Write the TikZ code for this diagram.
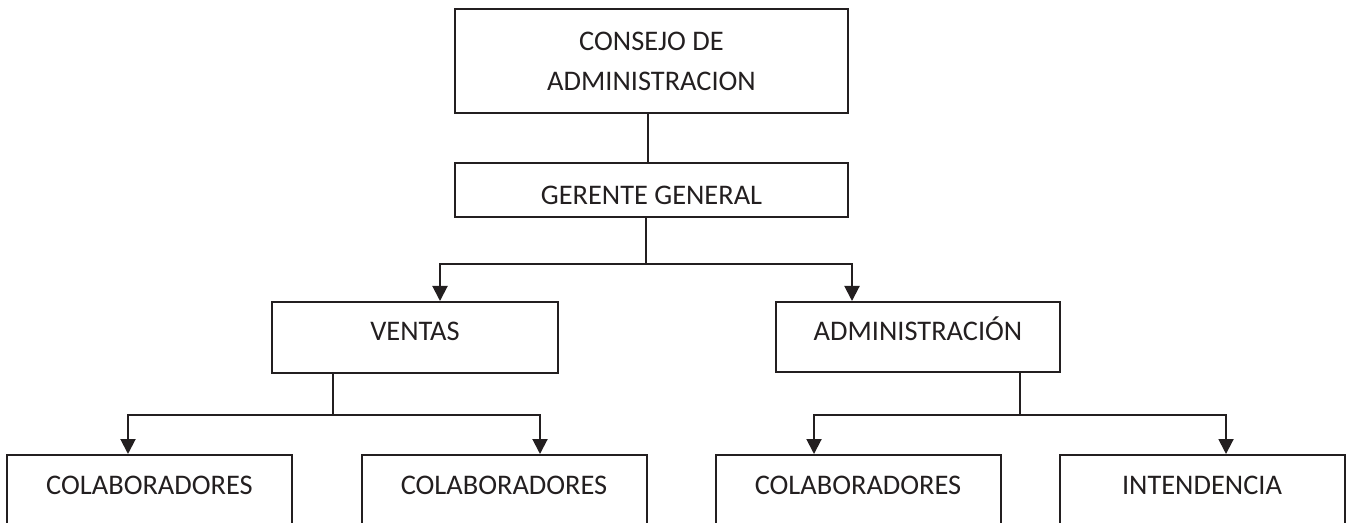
\documentclass[tikz,border=0pt]{standalone}
\usepackage{fontspec}
\setmainfont{Carlito}
\usetikzlibrary{arrows.meta}
\definecolor{tinta}{HTML}{231F20}

\tikzset{
  colab/.style={anchor=north,minimum width=142.5pt,inner ysep=10.5pt,text height=9pt,text depth=40pt}
}

\begin{document}
\begin{tikzpicture}[x=0.5pt,y=-0.5pt]
\useasboundingbox (0,0) rectangle (1347,523);
\clip (0,0) rectangle (1347,523);

\begin{scope}[every node/.style={draw=tinta,line width=1pt,text=tinta,
              font=\fontsize{14.2}{20}\selectfont,align=center,inner sep=0pt}]
    \node[minimum width=196.5pt,minimum height=52pt] (consejo) at (651.5,61) {CONSEJO DE\\ADMINISTRACION};
    \node[minimum width=196.5pt,minimum height=27pt,text height=15pt,text depth=0pt] (gerente) at (651.5,190) {GERENTE GENERAL};
    \node[minimum width=143pt,minimum height=35.5pt,text height=9pt,text depth=5.5pt] (ventas) at (415,337.5) {VENTAS};
    \node[minimum width=142pt,minimum height=35pt,text height=9pt,text depth=5.5pt] (admin) at (918,337) {ADMINISTRACIÓN};
    \node[colab] (colab1) at (149.5,454) {COLABORADORES};
    \node[colab] (colab2) at (504,454) {COLABORADORES};
    \node[colab] (colab3) at (858,454) {COLABORADORES};
    \node[colab] (intend) at (1202,454) {INTENDENCIA};
\end{scope}

\begin{scope}[line width=1pt,draw=tinta,>={Triangle[length=7.5pt,width=7.5pt]}]
    \coordinate (rCon) at (648,137);
    \coordinate (rGer) at (646,264);
    \coordinate (rVen) at (333,415);
    \coordinate (rAdm) at (1020,415);
    \draw (consejo.south -| rCon) -- (gerente.north -| rCon);
    \draw (gerente.south -| rGer) -- (rGer);
    \draw[->] (rGer) -| ([xshift=12.5pt]ventas.north);
    \draw[->] (rGer) -| ([xshift=-33pt]admin.north);
    \draw (ventas.south -| rVen) -- (rVen);
    \draw[->] (rVen) -| ([xshift=-10.75pt]colab1.north);
    \draw[->] (rVen) -| ([xshift=18pt]colab2.north);
    \draw (admin.south -| rAdm) -- (rAdm);
    \draw[->] (rAdm) -| ([xshift=-22pt]colab3.north);
    \draw[->] (rAdm) -| ([xshift=12pt]intend.north);
\end{scope}
\end{tikzpicture}
\end{document}
